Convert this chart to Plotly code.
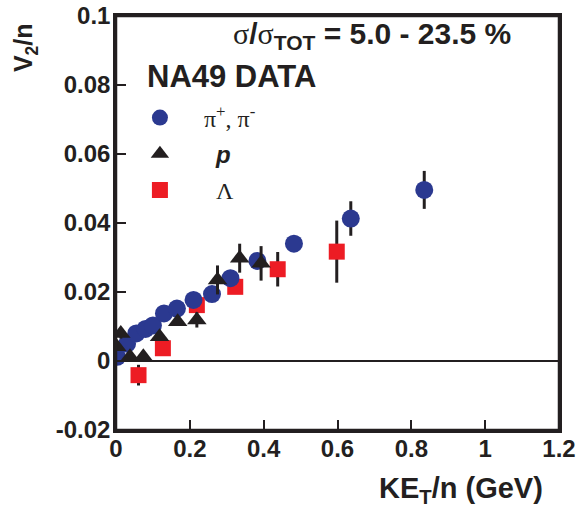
import plotly.graph_objects as go

# ---- data ----
pi_x = [0.003, 0.03, 0.055, 0.08, 0.10, 0.13, 0.165, 0.21, 0.26, 0.31, 0.383, 0.482, 0.636, 0.835]
pi_y = [0.0012, 0.005, 0.008, 0.0093, 0.0103, 0.0138, 0.0152, 0.0177, 0.0194, 0.024, 0.029, 0.034, 0.0413, 0.0496]
pi_err = [0.001, 0.001, 0.001, 0.001, 0.001, 0.001, 0.001, 0.001, 0.001, 0.0015, 0.002, 0.002, 0.005, 0.0055]

p_x = [0.002, 0.013, 0.038, 0.074, 0.118, 0.167, 0.219, 0.275, 0.335, 0.393]
p_y = [0.0041, 0.008, 0.0012, 0.0012, 0.007, 0.0114, 0.0119, 0.0235, 0.0298, 0.0283]
p_err = [0.001, 0.0015, 0.001, 0.001, 0.001, 0.001, 0.0022, 0.0042, 0.0042, 0.005]

lam_x = [0.061, 0.127, 0.219, 0.323, 0.438, 0.598]
lam_y = [-0.0041, 0.0037, 0.0162, 0.0215, 0.0266, 0.0317]
lam_err = [0.003, 0.001, 0.001, 0.0015, 0.005, 0.009]

x_ticks = [0, 0.2, 0.4, 0.6, 0.8, 1.0, 1.2]
x_ticktext = ["0", "0.2", "0.4", "0.6", "0.8", "1", "1.2"]
y_ticks = [-0.02, 0, 0.02, 0.04, 0.06, 0.08, 0.1]
y_ticktext = ["-0.02", "0", "0.02", "0.04", "0.06", "0.08", "0.1"]

INK = "#231f20"
BLUE = "#2b3990"
RED = "#ed1c24"
SANS = "Liberation Sans"
SERIF = "Liberation Serif"
NB = "&nbsp;"

fig = go.Figure()

def err(vals):
    return dict(type="data", array=vals, visible=True, color=INK, thickness=3, width=0)

fig.add_trace(go.Scatter(
    x=lam_x, y=lam_y, mode="markers", error_y=err(lam_err),
    marker=dict(symbol="square", size=16, color=RED),
    name=NB * 6 + "Λ", legendrank=3, legendgroup="c"))
fig.add_trace(go.Scatter(
    x=pi_x, y=pi_y, mode="markers", error_y=err(pi_err),
    marker=dict(symbol="circle", size=18, color=BLUE),
    name=NB * 4 + "π<sup>+</sup>, π<sup>-</sup>", legendrank=1, legendgroup="a"))
fig.add_trace(go.Scatter(
    x=p_x, y=p_y, mode="markers", error_y=err(p_err),
    marker=dict(symbol="triangle-up", size=17, color=INK),
    name=NB * 6 + "<span style='font-family:Liberation Sans'><b><i>p</i></b></span>",
    legendrank=2, legendgroup="b"))

axis_common = dict(
    showline=True, linecolor=INK, linewidth=2.5, mirror=True,
    ticks="inside", ticklen=10, tickwidth=1.5, tickcolor=INK,
    showgrid=False, ticklabeloverflow="allow", automargin=False,
    tickfont=dict(family=SANS, size=24, color=INK, weight="bold"),
)

fig.update_xaxes(range=[0, 1.2], tickvals=x_ticks, ticktext=x_ticktext,
                 zeroline=False, ticklabelstandoff=-5, **axis_common)
fig.update_yaxes(range=[-0.02, 0.1], tickvals=y_ticks, ticktext=y_ticktext,
                 zeroline=True, zerolinecolor=INK, zerolinewidth=1.5,
                 ticklabelstandoff=-2, **axis_common)

# closed frame around the plotting area
fig.add_shape(type="rect", xref="paper", yref="paper", x0=0, x1=1, y0=0, y1=1,
              line=dict(color=INK, width=2.5), layer="above")

fig.add_annotation(
    xref="paper", yref="paper", x=0.578, y=0.952, xanchor="center", yanchor="middle",
    text="<span style='font-family:Liberation Serif;font-weight:normal'>σ</span>/"
         "<span style='font-family:Liberation Serif;font-weight:normal'>σ</span><sub>TOT</sub> = 5.0 - 23.5 %",
    showarrow=False, font=dict(family=SANS, size=30, color=INK, weight="bold"))
fig.add_annotation(
    xref="paper", yref="paper", x=0.0655, y=0.853, xanchor="left", yanchor="middle",
    text="NA49 DATA", showarrow=False,
    font=dict(family=SANS, size=31, color=INK, weight="bold"))
fig.add_annotation(
    xref="paper", yref="paper", x=-0.205, y=0.923, xanchor="center", yanchor="middle",
    text="V<sub>2</sub>/n", textangle=-90, showarrow=False,
    font=dict(family=SANS, size=25, color=INK, weight="bold"))
fig.add_annotation(
    xref="paper", yref="paper", x=0.779, y=-0.145, xanchor="center", yanchor="middle",
    text="KE<sub>T</sub>/n (GeV)", showarrow=False,
    font=dict(family=SANS, size=29, color=INK, weight="bold"))

fig.update_layout(
    width=585, height=508,
    margin=dict(l=116, r=26, t=16, b=78, autoexpand=False),
    plot_bgcolor="white", paper_bgcolor="white",
    showlegend=True,
    legend=dict(x=0.054, y=0.808, xanchor="left", yanchor="top",
                bgcolor="rgba(0,0,0,0)", tracegroupgap=2,
                font=dict(family=SERIF, size=24, color=INK)),
)

# remove the default 8px page margin so the figure sits at the window's corner
fig.write_html("out.html", config={"displayModeBar": False},
               post_script="document.body.style.margin='0px';")
